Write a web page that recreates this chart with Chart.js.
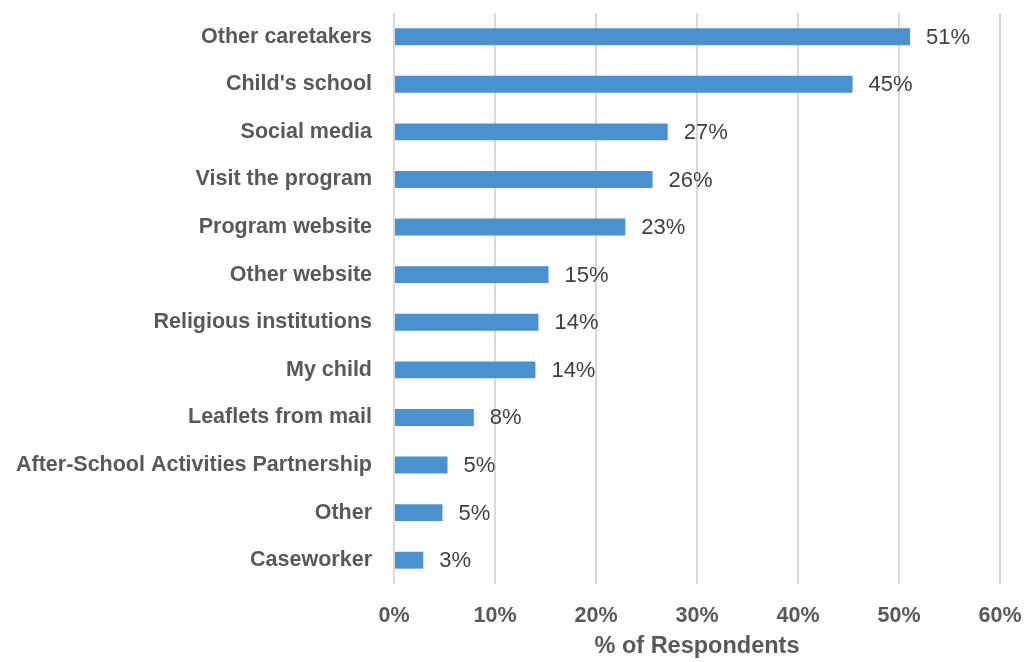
<!DOCTYPE html>
<html>
<head>
<meta charset="utf-8">
<script src="https://cdn.jsdelivr.net/npm/chart.js@4"></script>
<style>
  html, body { margin: 0; padding: 0; background: #fff; }
  #wrap { width: 1025px; height: 662px; }
</style>
</head>
<body>
<div id="wrap"><canvas id="sourcesChart"></canvas></div>
<script>
const categories = [
    'Other caretakers', "Child's school", 'Social media', 'Visit the program',
    'Program website', 'Other website', 'Religious institutions', 'My child',
    'Leaflets from mail', 'After-School Activities Partnership', 'Other', 'Caseworker'
];
const respondents = [51.1, 45.4, 27.1, 25.6, 22.9, 15.3, 14.3, 14.0, 7.9, 5.3, 4.8, 2.9];
const xTicks = [0, 10, 20, 30, 40, 50, 60];

// values drawn just past the end of each bar
const barValueLabels = {
    id: 'barValueLabels',
    afterDatasetsDraw(chart) {
        const ctx = chart.ctx;
        const meta = chart.getDatasetMeta(0);
        ctx.save();
        ctx.font = '22px "Liberation Sans", Arial, sans-serif';
        ctx.fillStyle = '#404040';
        ctx.textBaseline = 'middle';
        ctx.textAlign = 'left';
        meta.data.forEach((bar, i) => {
            ctx.fillText(`${Math.round(respondents[i])}%`, bar.x + 16, bar.y + 1);
        });
        ctx.restore();
    }
};

const labelFont = { family: '"Liberation Sans", Arial, sans-serif', size: 21.5, weight: 'bold' };

const ctx = document.getElementById('sourcesChart').getContext('2d');
new Chart(ctx, {
    type: 'bar',
    data: {
        labels: categories,
        datasets: [{
            data: respondents,
            backgroundColor: '#4a91d0',
            borderWidth: 0,
            barPercentage: 0.71,
            categoryPercentage: 0.5
        }]
    },
    options: {
        indexAxis: 'y',
        responsive: true,
        maintainAspectRatio: false,
        animation: false,
        layout: { padding: { top: 10, right: 25 } },
        plugins: {
            legend: { display: false },
            tooltip: { enabled: false }
        },
        scales: {
            x: {
                min: 0,
                max: 60,
                afterBuildTicks: scale => { scale.ticks = xTicks.map(v => ({ value: v })); },
                afterFit: scale => { scale.height = 78; },
                grid: { color: '#d9d9d9', lineWidth: 2, tickColor: 'transparent', tickLength: 19 },
                border: { display: false },
                ticks: {
                    padding: 0,
                    color: '#595959',
                    font: labelFont,
                    callback: v => `${v}%`
                },
                title: {
                    display: true,
                    text: '% of Respondents',
                    color: '#595959',
                    padding: { top: 0, bottom: 1 },
                    font: { family: '"Liberation Sans", Arial, sans-serif', size: 23.5, weight: 'bold' }
                }
            },
            y: {
                afterFit: scale => { scale.width = 394; },
                grid: { drawOnChartArea: false, tickColor: 'transparent', tickLength: 22 },
                border: { display: false },
                ticks: {
                    padding: 0,
                    color: '#595959',
                    font: labelFont
                }
            }
        }
    },
    plugins: [barValueLabels]
});
</script>
</body>
</html>
